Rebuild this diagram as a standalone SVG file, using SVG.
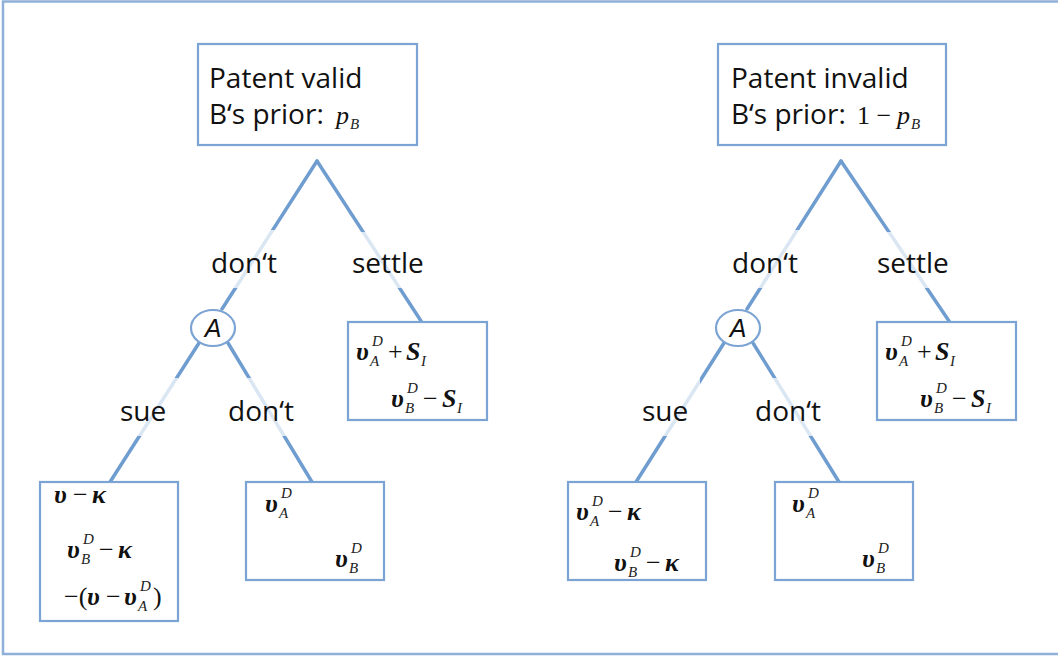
<svg xmlns="http://www.w3.org/2000/svg" width="1058" height="659" viewBox="0 0 1058 659">
<style>
.frame{fill:none;stroke:#8fb0d8;stroke-width:2.5}
.box{fill:#fff;stroke:#7ba3d3;stroke-width:2.2}
.edge{stroke:#6f9dd0;stroke-width:3.5;fill:none;stroke-linecap:round}
.lbl{font-family:"Open Sans",Lato,sans-serif;font-size:28px;fill:#111}
.bg{fill:#fff;opacity:0.75}
.m{font-family:"Liberation Serif",serif;font-style:italic;font-weight:bold;font-size:26px;fill:#111}
.mn{font-family:"Liberation Serif",serif;font-size:26px;fill:#111}
.s{font-family:"Liberation Serif",serif;font-style:italic;font-size:15px;fill:#222}
.circ{fill:#fff;stroke:#7ba3d3;stroke-width:2.2}
.A{font-family:"Liberation Sans",sans-serif;font-style:italic;font-size:25px;fill:#111}
</style>
<rect class="frame" x="3" y="1.5" width="1080" height="652.5"/>
<g id="connectors">
<line class="edge" x1="317" y1="161" x2="222" y2="309"/>
<line class="edge" x1="317" y1="161" x2="421" y2="321"/>
<line class="edge" x1="199" y1="343" x2="110" y2="482"/>
<line class="edge" x1="228" y1="343" x2="312" y2="482"/>
<line class="edge" x1="841" y1="161" x2="747" y2="309"/>
<line class="edge" x1="841" y1="161" x2="949" y2="321"/>
<line class="edge" x1="724" y1="343" x2="636" y2="482"/>
<line class="edge" x1="753" y1="343" x2="839" y2="482"/>
</g>
<g id="edge-labels">
<rect class="bg" x="205" y="230" width="86" height="58"/>
<text class="lbl" x="211" y="273">don‘t</text>
<rect class="bg" x="348" y="232" width="86" height="56"/>
<text class="lbl" x="352" y="273">settle</text>
<rect class="bg" x="114" y="378" width="64" height="58"/>
<text class="lbl" x="120" y="421">sue</text>
<rect class="bg" x="222" y="378" width="84" height="58"/>
<text class="lbl" x="228" y="421">don‘t</text>
<rect class="bg" x="726" y="230" width="86" height="58"/>
<text class="lbl" x="732" y="273">don‘t</text>
<rect class="bg" x="872" y="232" width="86" height="56"/>
<text class="lbl" x="877" y="273">settle</text>
<rect class="bg" x="636" y="378" width="64" height="58"/>
<text class="lbl" x="642" y="421">sue</text>
<rect class="bg" x="750" y="378" width="84" height="58"/>
<text class="lbl" x="755" y="421">don‘t</text>
</g>
<g id="root-valid">
<rect class="box" x="198" y="44" width="219" height="101"/>
<text class="lbl" x="209" y="88">Patent valid</text>
<text class="lbl" x="209" y="124">B‘s prior:</text>
<text class="m" x="336" y="124" style="font-weight:normal">p</text>
<text class="s" x="350" y="129" font-size="12">B</text>
</g>
<g id="root-invalid">
<rect class="box" x="718" y="44" width="228" height="101"/>
<text class="lbl" x="731" y="88">Patent invalid</text>
<text class="lbl" x="731" y="124">B‘s prior:</text>
<text class="mn" x="857" y="124">1 −</text>
<text class="m" x="897" y="124" style="font-weight:normal">p</text>
<text class="s" x="911" y="129" font-size="12">B</text>
</g>
<g id="A-left">
<ellipse class="circ" cx="213" cy="328" rx="22" ry="18"/>
<text class="A" x="213" y="337" text-anchor="middle">A</text>
</g>
<g id="A-right">
<ellipse class="circ" cx="738" cy="328" rx="22" ry="18"/>
<text class="A" x="738" y="337" text-anchor="middle">A</text>
</g>
<g id="settle-left">
<rect class="box" x="348" y="322" width="139" height="98"/>
<text class="m" x="356" y="360">υ</text><text class="s" x="372" y="346">D</text><text class="s" x="370" y="366">A</text>
<text class="mn" x="388" y="360">+</text><text class="m" x="406" y="360">S</text><text class="s" x="421" y="366">I</text>
<text class="m" x="391" y="407">υ</text><text class="s" x="407" y="393">D</text><text class="s" x="405" y="413">B</text>
<text class="mn" x="423" y="407">−</text><text class="m" x="442" y="407">S</text><text class="s" x="457" y="413">I</text>
</g>
<g id="settle-right">
<rect class="box" x="877" y="322" width="139" height="98"/>
<text class="m" x="885" y="360">υ</text><text class="s" x="901" y="346">D</text><text class="s" x="899" y="366">A</text>
<text class="mn" x="917" y="360">+</text><text class="m" x="935" y="360">S</text><text class="s" x="950" y="366">I</text>
<text class="m" x="920" y="407">υ</text><text class="s" x="936" y="393">D</text><text class="s" x="934" y="413">B</text>
<text class="mn" x="952" y="407">−</text><text class="m" x="971" y="407">S</text><text class="s" x="986" y="413">I</text>
</g>
<g id="sue-left">
<rect class="box" x="40" y="482" width="138" height="139"/>
<text class="m" x="54" y="503">υ</text><text class="mn" x="73" y="503">−</text><text class="m" x="92" y="503">κ</text>
<text class="m" x="67" y="558">υ</text><text class="s" x="83" y="544">D</text><text class="s" x="81" y="564">B</text>
<text class="mn" x="99" y="558">−</text><text class="m" x="118" y="558">κ</text>
<text class="mn" x="64" y="605">−(</text><text class="m" x="87" y="605">υ</text><text class="mn" x="106" y="605">−</text>
<text class="m" x="124" y="605">υ</text><text class="s" x="140" y="591">D</text><text class="s" x="138" y="611">A</text><text class="mn" x="153" y="605">)</text>
</g>
<g id="dont-left">
<rect class="box" x="246" y="482" width="138" height="98"/>
<text class="m" x="265" y="512">υ</text><text class="s" x="281" y="498">D</text><text class="s" x="279" y="518">A</text>
<text class="m" x="335" y="567">υ</text><text class="s" x="351" y="553">D</text><text class="s" x="349" y="573">B</text>
</g>
<g id="sue-right">
<rect class="box" x="568" y="482" width="138" height="98"/>
<text class="m" x="576" y="520">υ</text><text class="s" x="592" y="506">D</text><text class="s" x="590" y="526">A</text>
<text class="mn" x="608" y="520">−</text><text class="m" x="627" y="520">κ</text>
<text class="m" x="614" y="571">υ</text><text class="s" x="630" y="557">D</text><text class="s" x="628" y="577">B</text>
<text class="mn" x="646" y="571">−</text><text class="m" x="665" y="571">κ</text>
</g>
<g id="dont-right">
<rect class="box" x="775" y="482" width="138" height="98"/>
<text class="m" x="792" y="512">υ</text><text class="s" x="808" y="498">D</text><text class="s" x="806" y="518">A</text>
<text class="m" x="862" y="567">υ</text><text class="s" x="878" y="553">D</text><text class="s" x="876" y="573">B</text>
</g>
</svg>
